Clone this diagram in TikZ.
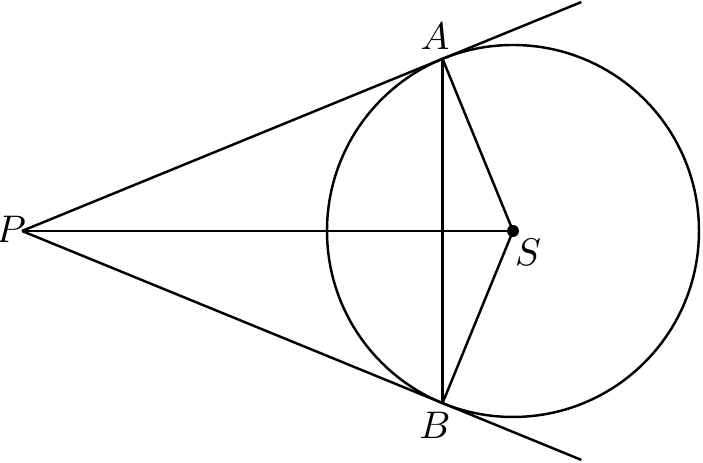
\documentclass[tikz,border=0pt]{standalone}
\usepackage{amsmath,amssymb}
\usepackage{tikz}
\usetikzlibrary{calc}

\begin{document}
\begin{tikzpicture}[line width=.7pt,every node/.style={inner sep=0pt,font=\fontsize{11}{13}\selectfont}]
	\useasboundingbox (0,0) rectangle (7.03,4.63);
	
	\coordinate (P) at (0.22,2.32);
	\coordinate (S) at (5.13,2.32);
	\coordinate (A) at ($(S)+(112.26:1.86)$);
	\coordinate (B) at ($(S)+(247.74:1.86)$);
	\coordinate (A2) at ($(P)!1.33!(A)$);
	\coordinate (B2) at ($(P)!1.33!(B)$);
	
	\node (lA) at (4.35,4.27){$A$};
	\node (lB) at (4.35,0.38){$B$};
	\node (lP) at (0.11,2.34){$P$};
	\node (lS) at (5.28,2.11){$S$};
	
	\begin{scope}
	%circle and tangents
	\draw (S) circle (1.86);
	\draw (P) -- (A2);
	\draw (P) -- (B2);
	\draw (P) -- (S);
	\draw (A) -- (B);
	\draw (A) -- (S) -- (B);
	\fill (S) circle (0.06);
	\end{scope}
\end{tikzpicture}
\end{document}
